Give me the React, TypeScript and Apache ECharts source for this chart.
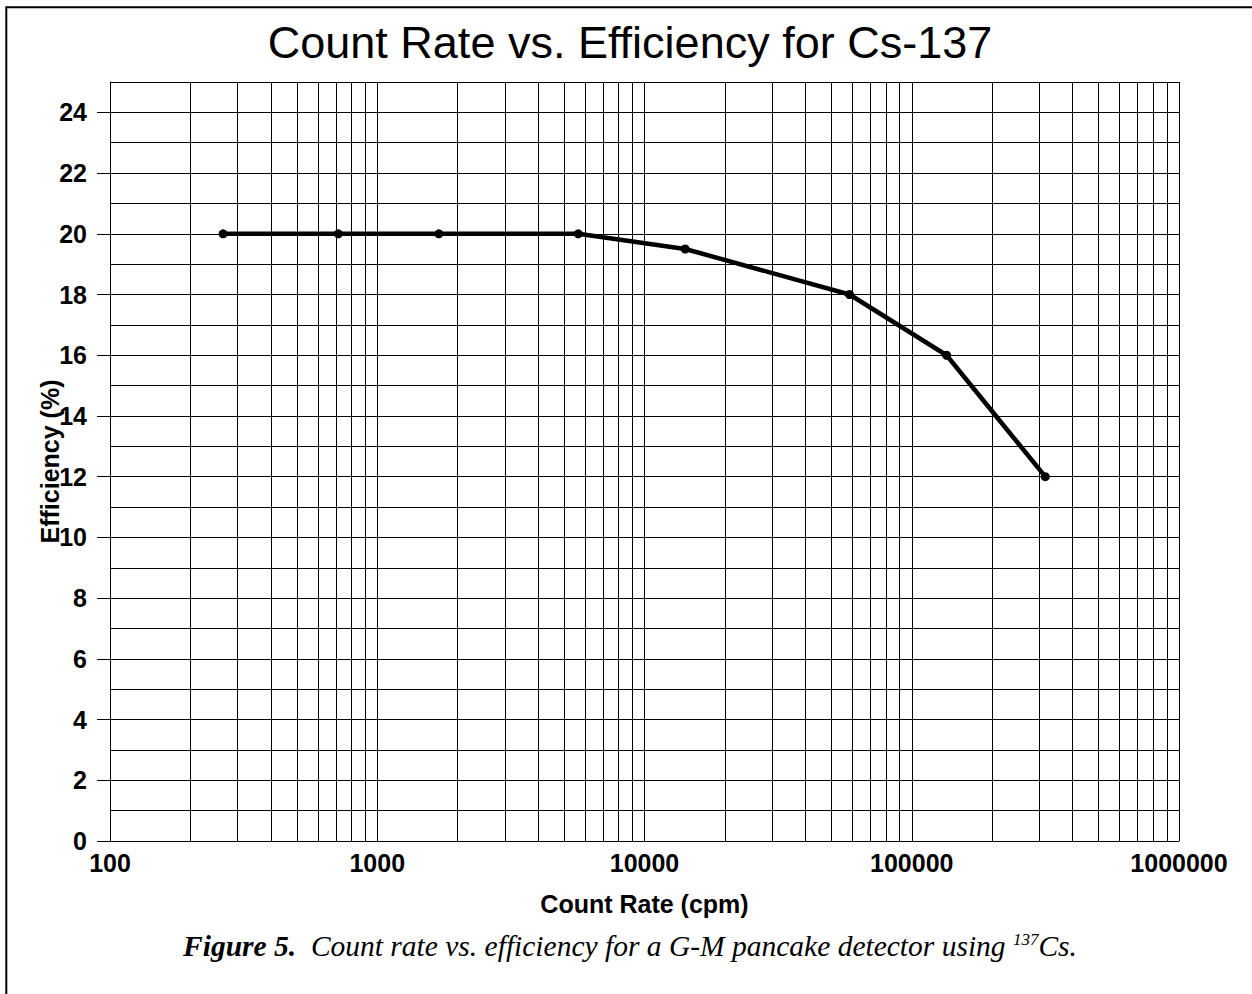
import React, { useEffect, useRef } from "react";
import * as echarts from "echarts";

const countRate = [265, 715, 1700, 5650, 14200, 58500, 135000, 316000];
const efficiency = [20, 20, 20, 20, 19.5, 18, 16, 12];
const yTickValues = [0, 2, 4, 6, 8, 10, 12, 14, 16, 18, 20, 22, 24];
const xMinorGrid = [
  200, 300, 400, 500, 600, 700, 800, 900,
  2000, 3000, 4000, 5000, 6000, 7000, 8000, 9000,
  20000, 30000, 40000, 50000, 60000, 70000, 80000, 90000,
  200000, 300000, 400000, 500000, 600000, 700000, 800000, 900000,
];

const SANS = "Liberation Sans, Arial, sans-serif";
const SERIF = "Liberation Serif, Times New Roman, serif";

export default function App() {
  const ref = useRef<HTMLDivElement>(null);
  useEffect(() => {
    const chart = echarts.init(ref.current as HTMLDivElement, null, { renderer: "svg" });
    chart.setOption({
      animation: false,
      backgroundColor: "#fff",
      title: {
        text: "Count Rate vs. Efficiency for Cs-137",
        left: 630,
        top: 20,
        textAlign: "center",
        padding: 0,
        textStyle: { fontFamily: SANS, fontSize: 45, fontWeight: "normal", color: "#000" },
      },
      grid: { left: 110, right: 73, top: 82, bottom: 153, outerBoundsMode: "none", containLabel: false },
      xAxis: {
        type: "log",
        logBase: 10,
        min: 100,
        max: 1000000,
        name: "Count Rate (cpm)",
        nameLocation: "middle",
        nameGap: 50,
        nameMoveOverlap: false,
        nameTextStyle: { fontFamily: SANS, fontSize: 25, fontWeight: "bold", color: "#000" },
        axisLine: { show: true, lineStyle: { color: "#000", width: 1 } },
        axisTick: { show: false },
        axisLabel: {
          formatter: (v: number) => String(Math.round(v)),
          fontFamily: SANS,
          fontSize: 25,
          fontWeight: "bold",
          color: "#000",
          margin: 9,
        },
        splitLine: { show: true, lineStyle: { color: "#000", width: 1 } },
        minorTick: { show: false },
        minorSplitLine: { show: false },
      },
      yAxis: [
        {
          type: "value",
          min: 0,
          max: 25,
          interval: 1,
          axisLine: { show: true, lineStyle: { color: "#000", width: 1 } },
          axisTick: { show: false },
          axisLabel: { show: false },
          splitLine: { show: true, lineStyle: { color: "#000", width: 1 } },
        },
        {
          type: "value",
          min: 0,
          max: 25,
          interval: 2,
          position: "left",
          name: "Efficiency (%)",
          nameLocation: "middle",
          nameGap: 48,
          nameMoveOverlap: false,
          nameTextStyle: { fontFamily: SANS, fontSize: 25, fontWeight: "bold", color: "#000" },
          axisLine: { show: false },
          axisTick: { show: true, length: 13, lineStyle: { color: "#000", width: 1 }, customValues: yTickValues },
          axisLabel: {
            customValues: yTickValues,
            fontFamily: SANS,
            fontSize: 25,
            fontWeight: "bold",
            color: "#000",
            margin: 23,
          },
          splitLine: { show: false },
        },
      ],
      series: [
        {
          type: "line",
          data: [],
          z: 1,
          silent: true,
          markLine: {
            silent: true,
            symbol: ["none", "none"],
            label: { show: false },
            emphasis: { disabled: true },
            lineStyle: { color: "#000", width: 1, type: "solid" },
            data: xMinorGrid.map((v) => ({ xAxis: v })),
          },
        },
        {
          type: "line",
          name: "Efficiency",
          data: countRate.map((x, i) => [x, efficiency[i]]),
          symbol: "circle",
          symbolSize: 9,
          showSymbol: true,
          lineStyle: { color: "#000", width: 4.5 },
          itemStyle: { color: "#000" },
          z: 5,
        },
      ],
      graphic: [
        {
          type: "polyline",
          shape: { points: [[6.3, 994], [6.3, 7.3], [1252, 7.3]] },
          style: { stroke: "#000", lineWidth: 2, fill: null },
          silent: true,
        },
        {
          type: "text",
          x: 630,
          y: 946,
          style: {
            text: "{b|Figure 5.}{i|  Count rate vs. efficiency for a G-M pancake detector using }{s|137}{i|Cs.}",
            align: "center",
            verticalAlign: "middle",
            rich: {
              b: { fontFamily: SERIF, fontSize: 29.5, fontWeight: "bold", fontStyle: "italic", fill: "#000" },
              i: { fontFamily: SERIF, fontSize: 29.5, fontStyle: "italic", fill: "#000" },
              s: { fontFamily: SERIF, fontSize: 17, fontStyle: "italic", fill: "#000", verticalAlign: "top" },
            },
          },
          silent: true,
        },
      ],
    });
    return () => chart.dispose();
  }, []);
  return (
    <div
      ref={ref}
      style={{ position: "absolute", left: 0, top: 0, width: 1252, height: 994, background: "#fff" }}
    />
  );
}
